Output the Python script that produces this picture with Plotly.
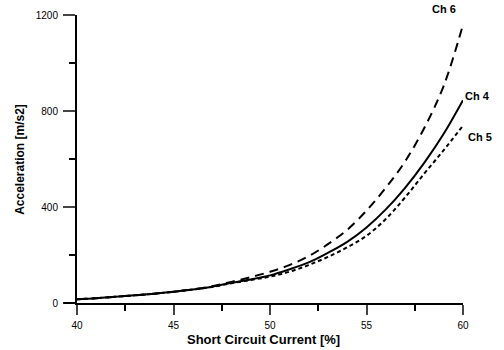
import plotly.graph_objects as go

current = list(range(40, 61))
ch4 = [16, 20, 26, 32, 39, 47, 56, 68, 84, 98, 115, 140, 169, 209, 255, 315, 390, 480, 585, 705, 845]
ch6 = [16, 20, 26, 32, 39, 47, 57, 70, 88, 108, 130, 158, 195, 245, 305, 385, 480, 590, 730, 905, 1160]
ch5 = [16, 20, 26, 32, 39, 47, 56, 67, 82, 96, 110, 130, 158, 192, 232, 280, 350, 440, 540, 637, 739]
labels = ["Ch 6", "Ch 4", "Ch 5"]

FONT = "Liberation Sans, Arial, sans-serif"

fig = go.Figure()
fig.add_trace(go.Scatter(x=current, y=ch5, mode="lines", line=dict(color="black", width=2, dash="4px,3px", shape="spline")))
fig.add_trace(go.Scatter(x=current, y=ch6, mode="lines", line=dict(color="black", width=2, dash="9px,6px", shape="spline")))
fig.add_trace(go.Scatter(x=current, y=ch4, mode="lines", line=dict(color="black", width=2, shape="spline")))

lab_pos = [(0.915, 1.02), (1.0, 0.718), (1.008, 0.575)]
for lab, (px, py) in zip(labels, lab_pos):
    fig.add_annotation(xref="paper", yref="paper", x=px, y=py, text="<b>" + lab + "</b>", showarrow=False,
                       xanchor="left", yanchor="middle",
                       font=dict(family=FONT, size=11, color="black"))

fig.add_annotation(xref="paper", yref="paper", x=0.482, y=-0.125, text="<b>Short Circuit Current [%]</b>",
                   showarrow=False, xanchor="center", yanchor="middle",
                   font=dict(family=FONT, size=13, color="black"))
fig.add_annotation(xref="paper", yref="paper", x=-0.148, y=0.5, text="<b>Acceleration [m/s2]</b>",
                   showarrow=False, xanchor="center", yanchor="middle", textangle=-90,
                   font=dict(family=FONT, size=12, color="black"))

fig.update_layout(
    width=504, height=350,
    margin=dict(l=77, r=41, t=9, b=47),
    paper_bgcolor="white", plot_bgcolor="white",
    showlegend=False,
    xaxis=dict(range=[40, 60], tickvals=[40, 45, 50, 55, 60], ticks="outside", ticklen=10, tickwidth=2,
               showline=True, linecolor="black", linewidth=2, showgrid=False, zeroline=False,
               tickfont=dict(family=FONT, size=10, color="black"), ticklabelstandoff=2,
               minor=dict(tickvals=[42.5, 47.5, 52.5, 57.5], ticks="outside", ticklen=6, tickwidth=1.5, tickcolor="black")),
    yaxis=dict(range=[0, 1200], tickvals=[0, 400, 800, 1200], ticks="outside", ticklen=12, tickwidth=1.5,
               showline=True, linecolor="black", linewidth=2, showgrid=False, zeroline=False,
               tickfont=dict(family=FONT, size=10, color="black"), ticklabelstandoff=3,
               minor=dict(tickvals=[200, 600, 1000], ticks="outside", ticklen=6, tickwidth=1.5, tickcolor="black")),
)
fig.update_xaxes(tickprefix="<b>", ticksuffix="</b>")
fig.update_yaxes(tickprefix="<b>", ticksuffix="</b>")
fig.add_shape(type="line", xref="paper", yref="paper", x0=-0.035, x1=0, y0=0, y1=0,
              line=dict(color="black", width=2))

fig.write_html("out.html")
